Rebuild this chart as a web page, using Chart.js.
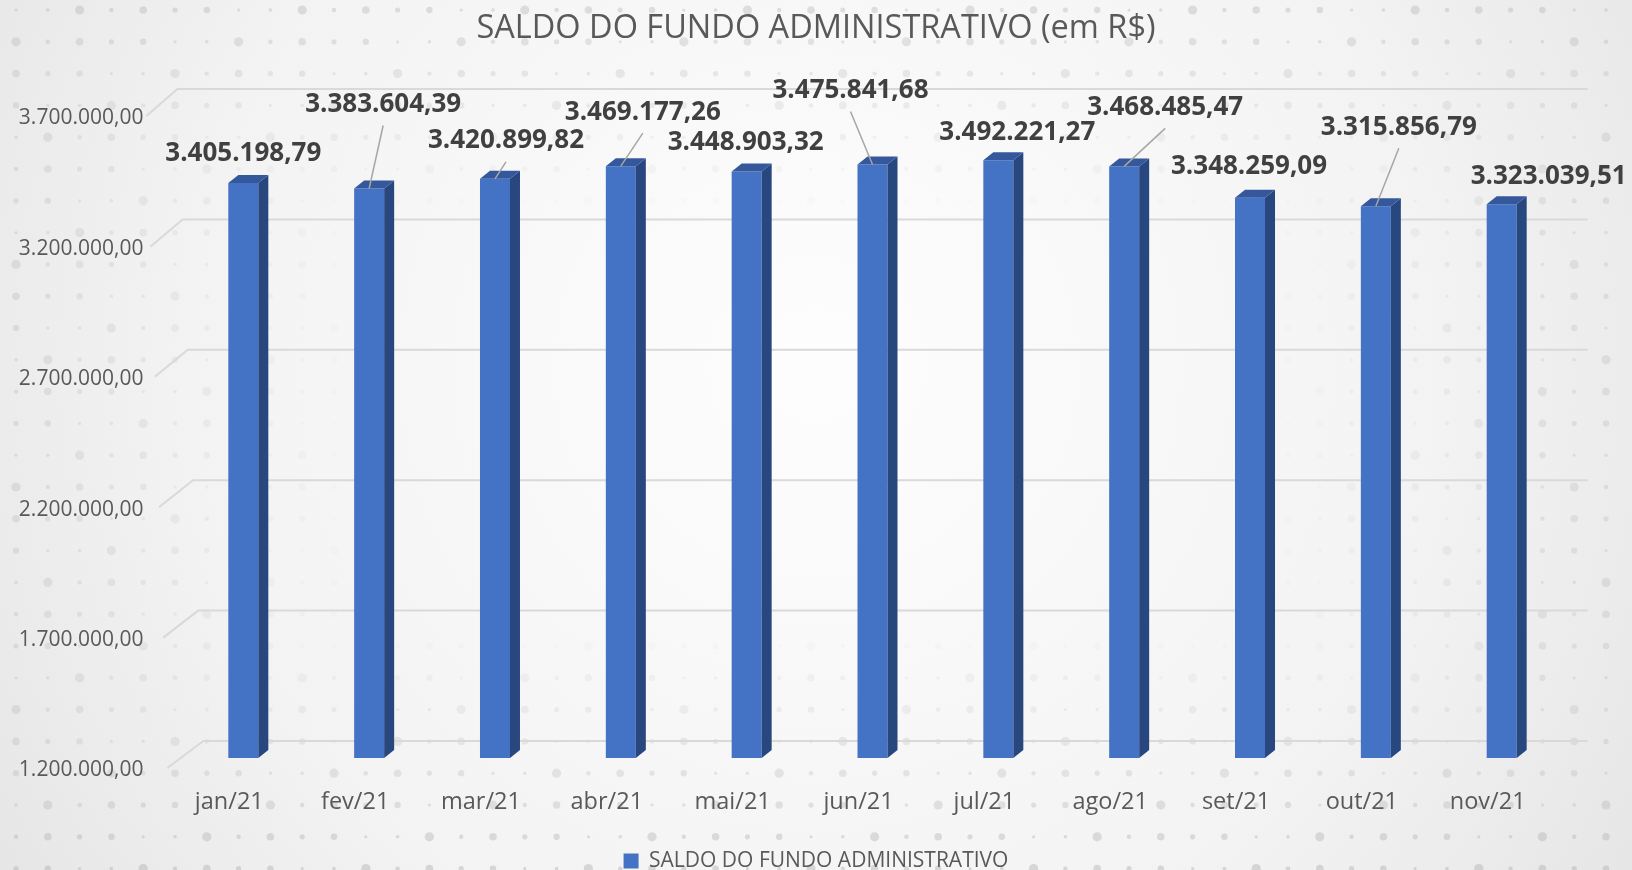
<!DOCTYPE html>
<html>
<head>
<meta charset="utf-8">
<title>Saldo do Fundo Administrativo</title>
<script src="https://cdn.jsdelivr.net/npm/chart.js@4.4.1/dist/chart.umd.min.js"></script>
<style>
  html, body { margin: 0; padding: 0; background: #f0f0f0; }
  #wrap { width: 1632px; height: 870px; }
</style>
</head>
<body>
<div id="wrap"><canvas id="saldoChart" width="1632" height="870"></canvas></div>
<script>
const months = ["jan/21", "fev/21", "mar/21", "abr/21", "mai/21", "jun/21", "jul/21", "ago/21", "set/21", "out/21", "nov/21"];
const saldo = [3405198.79, 3383604.39, 3420899.82, 3469177.26, 3448903.32, 3475841.68, 3492221.27, 3468485.47, 3348259.09, 3315856.79, 3323039.51];
const yTicks = [1200000, 1700000, 2200000, 2700000, 3200000, 3700000];
const seriesName = "SALDO DO FUNDO ADMINISTRATIVO";
const chartTitle = "SALDO DO FUNDO ADMINISTRATIVO (em R$)";

// labels were moved by hand in the original, so keep their shift from the bar top
const labelShift = [[0, -29], [14, -84], [11, -38], [22, -54], [-1, -29], [-22, -74], [19, -28], [41, -59], [-1, -31], [23, -79], [47, -28]];
const hasLeader = [false, true, true, true, false, true, false, true, false, true, false];

const depth = {dx: 10, dy: 8};

function formatBR(v) {
    const parts = v.toFixed(2).split(".");
    return parts[0].replace(/\B(?=(\d{3})+(?!\d))/g, ".") + "," + parts[1];
}

Chart.defaults.font.family = "'Open Sans', 'Noto Sans', sans-serif";

// light backdrop with the dotted texture
const backdrop = {
    id: "backdrop",
    beforeDraw(chart) {
        const {ctx, width, height} = chart;
        ctx.save();
        const g = ctx.createRadialGradient(width * 0.5, height * 0.42, 40, width * 0.5, height * 0.42, width * 0.62);
        g.addColorStop(0, "#fdfdfd");
        g.addColorStop(0.6, "#f3f3f3");
        g.addColorStop(1, "#e4e4e4");
        ctx.fillStyle = g;
        ctx.fillRect(0, 0, width, height);

        const step = 31.8;
        const sizes = [1.6, 2.2, 3.2, 4.6, 2.6, 1.8, 3.8];
        for (let j = 0; 10 + j * step < height; j++) {
            for (let i = 0; 16 + i * step < width; i++) {
                const x = 16 + i * step, y = 10 + j * step;
                const fy = Math.abs(y - height * 0.48) / (height * 0.5);
                const fx = Math.abs(x - width * 0.5) / (width * 0.5);
                const a = Math.max(0, Math.max(fy, fx * 0.85) - 0.45) * 0.75;
                if (a <= 0.01) continue;
                ctx.fillStyle = "rgba(175,175,175," + a.toFixed(3) + ")";
                ctx.beginPath();
                ctx.arc(x, y, sizes[(i * 5 + j * 3) % sizes.length], 0, Math.PI * 2);
                ctx.fill();
            }
        }
        ctx.restore();
    }
};

// gridlines sit on the back wall, with the slanted side wall edge
const backWall = {
    id: "backWall",
    beforeDatasetsDraw(chart) {
        const {ctx, chartArea, scales: {y}} = chart;
        ctx.save();
        ctx.strokeStyle = "#d9d9d9";
        ctx.lineWidth = 2;
        yTicks.forEach(v => {
            const t = (v - y.min) / (y.max - y.min);
            const py = y.getPixelForValue(v);
            const yBack = py - 17;
            const yFront = py + 10;
            const xFront = chartArea.left - 13 - 21 * t;
            const xBack = chartArea.left + 23 - 26 * t;
            ctx.beginPath();
            ctx.moveTo(xFront, yFront);
            ctx.lineTo(xBack, yBack);
            ctx.lineTo(chartArea.right + 23, yBack);
            ctx.stroke();
        });
        ctx.restore();
    }
};

// side and top faces for the 3D look, then the value labels
const bars3d = {
    id: "bars3d",
    afterDatasetsDraw(chart) {
        const {ctx} = chart;
        const meta = chart.getDatasetMeta(0);
        ctx.save();
        meta.data.forEach(bar => {
            const {x, y, base, width} = bar.getProps(["x", "y", "base", "width"], true);
            const l = x - width / 2, r = x + width / 2;
            ctx.fillStyle = "#28477f";
            ctx.beginPath();
            ctx.moveTo(r, y);
            ctx.lineTo(r + depth.dx, y - depth.dy);
            ctx.lineTo(r + depth.dx, base - depth.dy);
            ctx.lineTo(r, base);
            ctx.closePath();
            ctx.fill();
            ctx.fillStyle = "#34589b";
            ctx.beginPath();
            ctx.moveTo(l, y);
            ctx.lineTo(l + depth.dx, y - depth.dy);
            ctx.lineTo(r + depth.dx, y - depth.dy);
            ctx.lineTo(r, y);
            ctx.closePath();
            ctx.fill();
        });

        ctx.font = "bold 26px 'Open Sans'";
        ctx.textAlign = "center";
        ctx.textBaseline = "middle";
        meta.data.forEach((bar, i) => {
            const {x, y} = bar.getProps(["x", "y"], true);
            const lx = x + labelShift[i][0];
            const ly = y + labelShift[i][1];
            if (hasLeader[i]) {
                ctx.strokeStyle = "#a6a6a6";
                ctx.lineWidth = 1.5;
                ctx.beginPath();
                ctx.moveTo(lx, ly + 21);
                ctx.lineTo(x, y);
                ctx.stroke();
            }
            ctx.fillStyle = "#404040";
            ctx.fillText(formatBR(saldo[i]), lx, ly);
        });
        ctx.restore();
    }
};

const canvasElement = document.getElementById("saldoChart");

const saldoChart = new Chart(canvasElement, {
    type: "bar",
    data: {
        labels: months,
        datasets: [{
            label: seriesName,
            data: saldo,
            base: 1200000,
            backgroundColor: "#4472c4",
            borderWidth: 0,
            barPercentage: 0.2384,
            categoryPercentage: 1
        }]
    },
    options: {
        responsive: false,
        animation: false,
        layout: {padding: {left: 0, right: 0, top: 0, bottom: -11.5}},
        scales: {
            x: {
                grid: {display: false, drawTicks: false},
                border: {display: false},
                ticks: {
                    color: "#595959",
                    font: {size: 23.5},
                    padding: 30.4,
                    labelOffset: -14,
                    maxRotation: 0
                }
            },
            y: {
                min: 1200000,
                max: 3700000,
                afterBuildTicks: scale => {
                    scale.ticks = yTicks.map(v => ({value: v}));
                },
                afterFit: scale => {
                    scale.width = 180.4;
                },
                grid: {display: false, drawTicks: false},
                border: {display: false},
                ticks: {
                    color: "#595959",
                    font: {size: 21},
                    padding: 37,
                    labelOffset: 12.5,
                    callback: v => formatBR(v)
                }
            },
            // empty right margin so the title and legend stay centred on the page
            yRight: {
                position: "right",
                grid: {display: false, drawTicks: false},
                border: {display: false},
                ticks: {display: false},
                afterFit: scale => {
                    scale.width = 67.4;
                }
            }
        },
        plugins: {
            title: {
                display: true,
                text: chartTitle,
                color: "#595959",
                font: {size: 32.5, weight: "normal"},
                padding: {top: 9.5, bottom: 57.5}
            },
            legend: {
                position: "bottom",
                labels: {
                    color: "#595959",
                    font: {size: 21},
                    boxWidth: 15,
                    boxHeight: 15,
                    padding: 3.5
                }
            },
            tooltip: {enabled: false}
        }
    },
    plugins: [backdrop, backWall, bars3d]
});
</script>
</body>
</html>
